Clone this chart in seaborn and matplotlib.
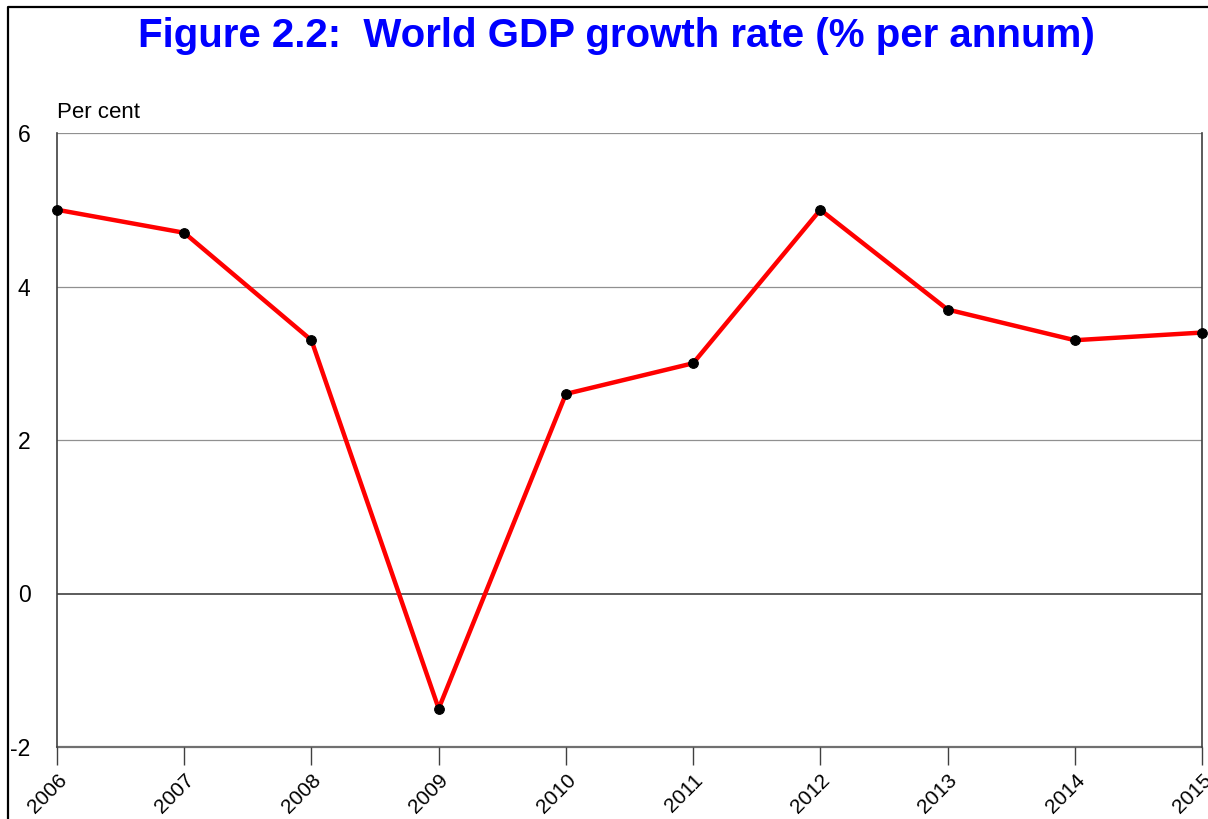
import matplotlib
matplotlib.use("Agg")
import matplotlib.pyplot as plt
import seaborn as sns
import pandas as pd
from matplotlib.lines import Line2D

years = [2006, 2007, 2008, 2009, 2010, 2011, 2012, 2013, 2014, 2015]
growth = [5.0, 4.7, 3.3, -1.5, 2.6, 3.0, 5.0, 3.7, 3.3, 3.4]
yticks = [-2, 0, 2, 4, 6]

sns.set_style("white")
plt.rcParams['font.family'] = ['Liberation Sans', 'DejaVu Sans']
plt.rcParams['text.color'] = 'black'
plt.rcParams['xtick.color'] = 'black'
plt.rcParams['ytick.color'] = 'black'

df = pd.DataFrame({"year": years, "growth": growth})

fig = plt.figure(figsize=(12.08, 8.19), dpi=100)
ax = fig.add_axes([57/1208, 1-747/819, (1202-57)/1208, (747-133)/819])

for v in [2, 4, 6]:
    ax.axhline(v, color="#909090", lw=0.9, zorder=0)
ax.axhline(-2, color="#707070", lw=1.6, zorder=0, clip_on=False)
ax.axhline(0, color="#404040", lw=1.2, zorder=1)

sns.lineplot(data=df, x="year", y="growth", ax=ax, color="#ff0000", lw=3.2,
             marker="o", markersize=7, markerfacecolor="black",
             markeredgecolor="black", zorder=3, clip_on=False)

ax.set_xlim(years[0], years[-1])
ax.set_ylim(-2, 6)
ax.set_yticks(yticks)
ax.set_yticklabels([str(t) for t in yticks], fontsize=16.5)
ax.set_xticks(years)
ax.set_xticklabels([str(y) for y in years], fontsize=15, rotation=45,
                   ha="right", rotation_mode="anchor")
ax.tick_params(axis="x", length=13, width=1, color="#404040", pad=4, bottom=True)
ax.tick_params(axis="y", length=0, pad=19)
ax.set_xlabel("")
ax.set_ylabel("")

for s in ["left", "right"]:
    ax.spines[s].set_color("#404040")
    ax.spines[s].set_linewidth(1.2)
ax.spines["top"].set_visible(False)
ax.spines["bottom"].set_visible(False)

fig.text(57/1208, 1-112/819, "Per cent", fontsize=16, va="center", ha="left")
fig.text(616/1208, 1-36/819, "Figure 2.2:  World GDP growth rate (% per annum)",
         fontsize=29, fontweight="bold", color="#0000ff", ha="center", va="center")

fig.add_artist(Line2D([8/1208, 8/1208, 1.0], [0, 1-7/819, 1-7/819],
                      transform=fig.transFigure, color="black", lw=1.6))

fig.savefig("out.png", dpi=100)
